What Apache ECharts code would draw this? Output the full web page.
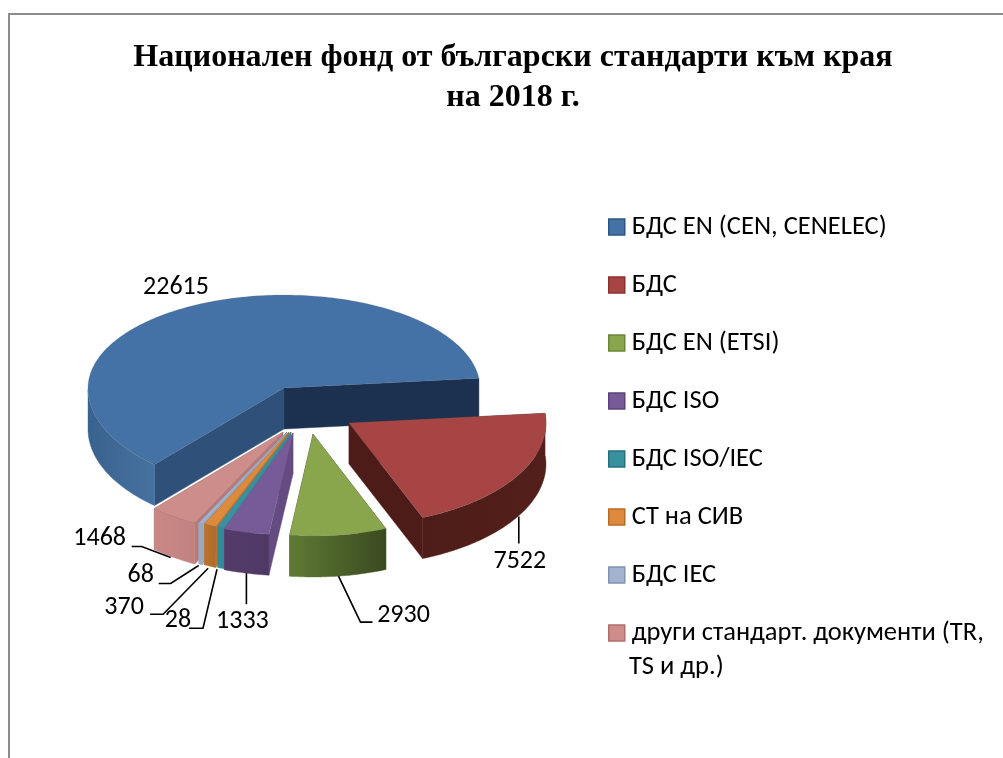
<!DOCTYPE html>
<html><head><meta charset="utf-8">
<style>html,body{margin:0;padding:0;background:#fff}#c{width:1003px;height:758px}</style>
<script src="https://cdn.jsdelivr.net/npm/echarts@6/dist/echarts.min.js"></script>
</head><body><div id="c"></div>
<script>
const titleText = 'Национален фонд от български стандарти към края\nна 2018 г.';
const categories = ['БДС EN (CEN, CENELEC)','БДС','БДС EN (ETSI)','БДС ISO','БДС ISO/IEC','СТ на СИВ','БДС IEC','други стандарт. документи (TR,'];
const legendContinuation = 'TS и др.)';
const values = [22615,7522,2930,1333,28,370,68,1468];
const topColors = ['#4472a6','#a64543','#8aa64c','#775a98','#37919f','#dd8a3c','#a3b3cf','#cd8d8b'];
const legendBorders = ['#2f5585','#8a3230','#6c8638','#5b4377','#27707e','#b56c28','#8093b3','#b06e6c'];

// Drawing layout of the exploded, tilted pie
const startAngle = 84;            // clockwise from 12 o'clock, where slice 1 (БДС) begins
const ryFront = 102, ryBack = 93, depth = 41;
const apex = [[284,388],[349,423],[313,434],[293,433],[291,432],[289,432],[287,432],[283,432]];
const radiusX = [196,197,195,200,195,195,195,195];
const walls = [
  {rim:['#39628f','#47719f'],a:'#2f5179',b:'#1c3150'},
  {rim:['#4f1d19','#521f1a'],a:'#4e1c18',b:'#4e1c18'},
  {rim:['#5f7a35','#3a4a1f'],a:'#4a5f28',b:'#4a5f28'},
  {rim:['#533c6b','#4e3864'],a:'#644b82',b:'#644b82'},
  {rim:['#2f8b9a','#2f8b9a'],a:'#2f8b9a',b:'#2f8b9a'},
  {rim:['#bb742f','#ad6a2a'],a:'#bb742f',b:'#bb742f'},
  {rim:['#9aaac5','#9aaac5'],a:'#9aaac5',b:'#9aaac5'},
  {rim:['#c98886','#c08280'],a:'#b87a78',b:'#b87a78'}
];
// label offsets from the slice's rim anchor: leader waypoints, then label centre
const leaders = [[],[[1,0],[1,27]],[[0,0],[22,46],[34,46]],[[0,0],[0,31]],[[-4,1],[-18,60],[-32,60]],[[-2,2],[-47,48],[-60,48]],[[-2,1],[-30,19],[-42,19]],[[-3,0],[-32,-11],[-42,-11]]];
const labelAt = [[-18,-59],[2,45],[65,39],[-4,48],[-43,52],[-86,41],[-60,11],[-74,-19]];
const drawOrder = [0,7,6,5,4,3,2,1];
const uiFont = 'Carlito, Lato, "Open Sans", sans-serif';

const total = values.reduce((a,b)=>a+b,0);
const raw = values.map(v=>v/total*360);
const widened = raw.map(d=>Math.max(d,d<0.5?2:d<1?1.2:0));
const kept = raw.reduce((s,d)=>s+(d<1?0:d),0);
const left = 360-widened.reduce((s,d,i)=>s+(raw[i]<1?d:0),0);
const sweep = raw.map((d,i)=>raw[i]<1?widened[i]:d*left/kept);
const begin=[]; let acc=startAngle;
for(let i=1;i<values.length;i++){begin[i]=acc;acc+=sweep[i];}
begin[0]=acc;

function pt(i,deg){
  const t=deg*Math.PI/180, u=Math.sin(t), v=-Math.cos(t);
  return [apex[i][0]+radiusX[i]*u, apex[i][1]+(v<0?ryBack:ryFront)*v];
}
function down(p){return [p[0],p[1]+depth];}
function poly(points,fill,stroke){
  return {type:'polygon',shape:{points},style:{fill,stroke:stroke||fill,lineWidth:stroke?0.6:0.4}};
}
function renderSlice(i){
  return function(params,api){
    api.value(0);
    const a0=begin[i],a1=begin[i]+sweep[i],arc=[];
    const n=Math.max(2,Math.ceil(sweep[i]));
    for(let k=0;k<=n;k++)arc.push(pt(i,a0+(a1-a0)*k/n));
    const c=apex[i],w=walls[i],kids=[];
    // cut walls, then outer rim, then the top face
    kids.push(poly([c,arc[arc.length-1],down(arc[arc.length-1]),down(c)],w.b));
    kids.push(poly([c,arc[0],down(arc[0]),down(c)],w.a));
    const rimGrad=new echarts.graphic.LinearGradient(0,0,1,0,[{offset:0,color:w.rim[0]},{offset:1,color:w.rim[1]}]);
    let front;
    if(i===0){
      front=[];for(let k=0;k<=n;k++){const d=a0+(a1-a0)*k/n;if(d<=270)front.push(pt(i,d));}
    } else {
      front=arc.filter(p=>p[1]>=c[1]-12);
    }
    kids.push(poly(front.concat(front.slice().reverse().map(down)),rimGrad));
    kids.push(poly([c].concat(arc),topColors[i],'rgba(120,120,120,0.35)'));
    // value label with leader
    const mid=a0+(a1-a0)/2, anchor=down(pt(i,mid));
    if(leaders[i].length){
      kids.push({type:'polyline',z2:50,shape:{points:leaders[i].map(o=>[anchor[0]+o[0],anchor[1]+o[1]])},style:{stroke:'#000',lineWidth:1.6,fill:null}});
    }
    kids.push({type:'text',z2:60,style:{text:String(values[i]),x:anchor[0]+labelAt[i][0],y:anchor[1]+labelAt[i][1],fill:'#000',font:'26px '+uiFont,align:'center',verticalAlign:'middle'}});
    return {type:'group',children:kids};
  };
}
const series=categories.map((name,i)=>({
  type:'custom',name,coordinateSystem:'none',silent:true,
  z:2+drawOrder.indexOf(i),
  itemStyle:{color:topColors[i]},
  data:[{name,value:[values[i]]}],
  renderItem:renderSlice(i)
}));
const chart=echarts.init(document.getElementById('c'),null,{renderer:'canvas'});
chart.setOption({
  animation:false,backgroundColor:'#fff',
  title:{text:titleText,left:508,top:33,textAlign:'center',
    textStyle:{fontFamily:'"Liberation Serif","Times New Roman",serif',fontWeight:'bold',fontSize:32,lineHeight:40,color:'#000'}},
  legend:{orient:'vertical',left:603,top:207,itemWidth:16,itemHeight:16,itemGap:28,icon:'rect',selectedMode:false,
    data:categories.map((name,i)=>({name,itemStyle:{color:topColors[i],borderColor:legendBorders[i],borderWidth:1.5}})),
    textStyle:{fontFamily:uiFont,fontSize:26.5,lineHeight:30,color:'#000',padding:[0,0,0,2]}},
  graphic:[
    {type:'polyline',silent:true,shape:{points:[[9,758],[9,14],[1003,14]]},style:{stroke:'#8c8c8c',lineWidth:2,fill:null}},
    {type:'text',silent:true,style:{text:legendContinuation,x:629,y:667,fill:'#000',font:'26.5px '+uiFont,verticalAlign:'middle'}}
  ],
  series
});
</script></body></html>
